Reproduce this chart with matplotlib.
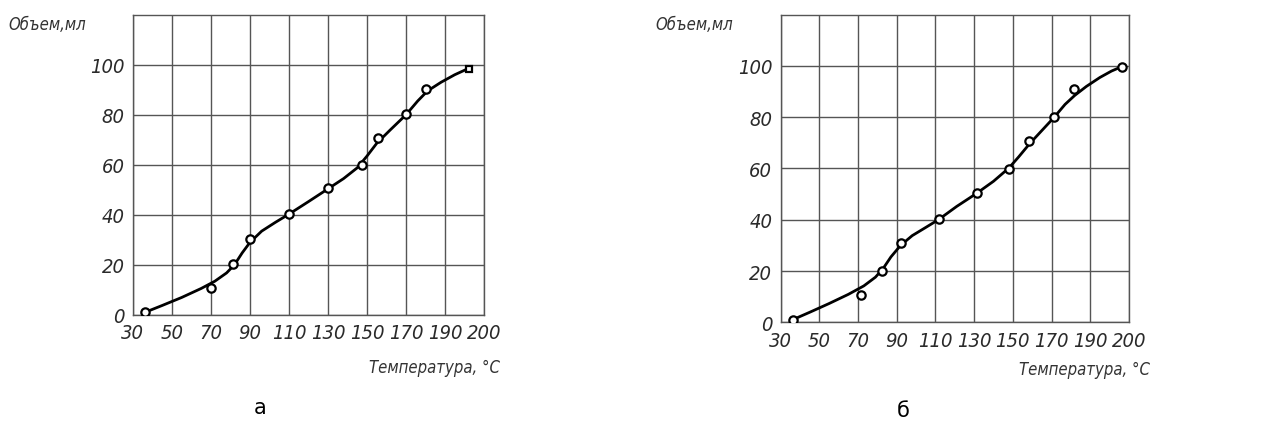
import matplotlib.pyplot as plt

plt.rcParams['font.family'] = ['DejaVu Sans']
plt.rcParams['font.stretch'] = 'condensed'

# ── данные ──────────────────────────────────────────────────────────────────
x_ticks = [30, 50, 70, 90, 110, 130, 150, 170, 190, 210]
x_labels = ['30', '50', '70', '90', '110', '130', '150', '170', '190', '200']
y_ticks = [0, 20, 40, 60, 80, 100]

# (а) экспериментальные точки
temp_a = [36.3, 70.0, 81.5, 90.2, 110.2, 130.0, 147.4, 155.4, 170.2, 180.4]
vol_a = [1.1, 10.7, 20.2, 30.2, 40.2, 50.9, 60.0, 70.6, 80.2, 90.1]
temp_a_last = [202.1]
vol_a_last = [98.3]
# (а) кривая
curve_temp_a = [36.3, 45, 55, 65, 72, 78, 82, 86, 90, 96, 103, 110, 120, 130,
                138, 145, 150, 155, 162, 170, 176, 181, 188, 195, 202]
curve_vol_a = [1.1, 3.8, 7.0, 10.6, 13.5, 16.8, 20.0, 24.8, 29.0, 33.5, 37.0, 40.3,
               45.3, 50.4, 54.5, 58.8, 63.5, 68.6, 74.0, 80.0, 85.5, 89.5, 93.0, 96.0, 98.5]

# (б) экспериментальные точки
temp_b = [36.2, 71.5, 82.2, 92.0, 111.7, 131.3, 148.0, 158.5, 171.4, 181.6, 206.2]
vol_b = [1.0, 10.5, 20.0, 31.0, 40.1, 50.3, 59.9, 70.7, 80.0, 91.1, 99.7]
# (б) кривая
curve_temp_b = [36.2, 45, 55, 65, 73, 79, 83, 87, 92, 98, 105, 111.7, 121, 131.3,
                140, 148, 153, 158.5, 165, 171.4, 177, 182, 188, 195, 201, 206.2]
curve_vol_b = [1.0, 3.9, 7.3, 10.9, 14.2, 17.6, 21.0, 25.5, 30.0, 33.8, 37.0, 40.1,
               45.2, 50.3, 55.0, 60.2, 64.5, 69.5, 74.8, 80.0, 85.0, 88.5, 92.0, 95.5, 98.0, 99.7]

# ── рисунок ─────────────────────────────────────────────────────────────────
fig = plt.figure(figsize=(12.71, 4.27), dpi=100)
ax_a = fig.add_axes([0.1046, 0.260, 0.2762, 0.7033])
ax_b = fig.add_axes([0.6142, 0.2429, 0.2740, 0.7204])

grid_col = '#555555'
tick_font = dict(fontsize=14.5, style='italic', color='#2a2a2a')


def style_axes(ax):
    ax.set_xlim(30, 210)
    ax.set_ylim(0, 120)
    ax.set_xticks(x_ticks)
    ax.set_xticklabels(x_labels, **tick_font)
    ax.set_yticks(y_ticks)
    ax.set_yticklabels([str(v) for v in y_ticks], **tick_font)
    ax.tick_params(length=0, pad=6)
    ax.grid(True, color=grid_col, lw=1.0)
    for s in ax.spines.values():
        s.set_color(grid_col)
        s.set_linewidth(1.0)
    ax.set_axisbelow(True)


for ax in (ax_a, ax_b):
    style_axes(ax)

mk = dict(ls='none', marker='o', ms=6, mfc='white', mec='black', mew=1.6, zorder=4)

ax_a.plot(curve_temp_a, curve_vol_a, color='black', lw=2.0, zorder=3)
ax_a.plot(temp_a, vol_a, **mk)
ax_a.plot(temp_a_last, vol_a_last, **{**mk, 'marker': 's', 'ms': 5})

ax_b.plot(curve_temp_b, curve_vol_b, color='black', lw=2.0, zorder=3)
ax_b.plot(temp_b, vol_b, **mk)

lab_font = dict(fontsize=12, style='italic', color='#333333')
fig.text(8 / 1271, 1 - 25 / 427, 'Объем,мл', ha='left', va='center', **lab_font)
fig.text(655 / 1271, 1 - 25 / 427, 'Объем,мл', ha='left', va='center', **lab_font)
fig.text(500 / 1271, 1 - 368 / 427, 'Температура, °C', ha='right', va='center', **lab_font)
fig.text(1150 / 1271, 1 - 370 / 427, 'Температура, °C', ha='right', va='center', **lab_font)

cap_font = dict(fontsize=15, color='black', stretch='normal')
fig.text(260 / 1271, 1 - 408 / 427, 'а', ha='center', va='center', **cap_font)
fig.text(903 / 1271, 1 - 411 / 427, 'б', ha='center', va='center', **cap_font)

fig.savefig('out.png', dpi=100, facecolor='white')
